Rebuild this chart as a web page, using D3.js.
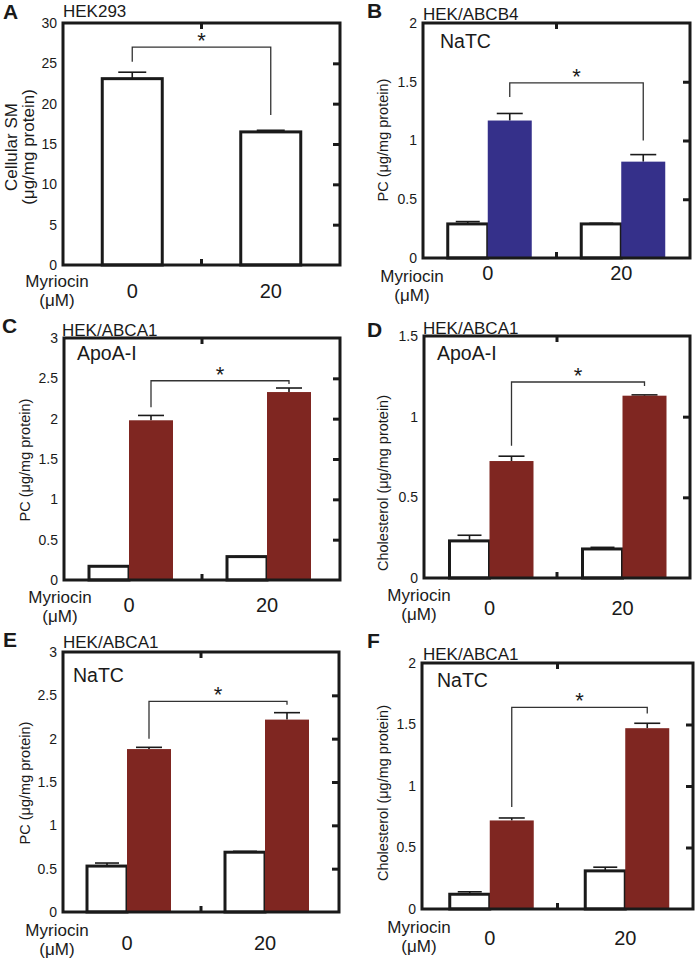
<!DOCTYPE html>
<html><head><meta charset="utf-8">
<script src="https://cdn.jsdelivr.net/npm/d3@7"></script>
<style>body{margin:0;background:#fff} text{font-family:"Liberation Sans",Arial,sans-serif;fill:#1a1a1a}</style>
</head><body><svg id="c" width="700" height="960"></svg>
<script>
// ---------------- DATA ----------------
const categories = ["0", "20"];

// Panel A: HEK293 cellular SM
const aValues = [23.1, 16.5];
const aErrors = [0.8, 0.2];
const aTicks = [0, 5, 10, 15, 20, 25, 30];
const aBracket = [25.2, 27.0, 18.6]; // left foot, top, right foot

// Panel B: HEK/ABCB4, NaTC, PC
const bControl = [0.29, 0.29];
const bControlErr = [0.02, 0.005];
const bTreated = [1.17, 0.82];
const bTreatedErr = [0.06, 0.06];
const bTicks = [0, 0.5, 1, 1.5, 2];
const bBracket = [1.37, 1.49, 1.0];

// Panel C: HEK/ABCA1, ApoA-I, PC
const cControl = [0.17, 0.29];
const cControlErr = [0, 0];
const cTreated = [1.98, 2.33];
const cTreatedErr = [0.06, 0.05];
const cTicks = [0, 0.5, 1, 1.5, 2, 2.5, 3];
const cBracket = [2.14, 2.47, 2.43];

// Panel D: HEK/ABCA1, ApoA-I, Cholesterol
const dControl = [0.23, 0.18];
const dControlErr = [0.035, 0.01];
const dTreated = [0.725, 1.13];
const dTreatedErr = [0.03, 0.005];
const dTicks = [0, 0.5, 1, 1.5];
const dBracket = [0.82, 1.215, 1.19];

// Panel E: HEK/ABCA1, NaTC, PC
const eControl = [0.53, 0.69];
const eControlErr = [0.035, 0.01];
const eTreated = [1.88, 2.22];
const eTreatedErr = [0.02, 0.08];
const eTicks = [0, 0.5, 1, 1.5, 2, 2.5, 3];
const eBracket = [2.0, 2.43, 2.39];

// Panel F: HEK/ABCA1, NaTC, Cholesterol
const fControl = [0.12, 0.31];
const fControlErr = [0.02, 0.03];
const fTreated = [0.72, 1.47];
const fTreatedErr = [0.02, 0.04];
const fTicks = [0, 0.5, 1, 1.5, 2];
const fBracket = [0.83, 1.64, 1.59];

// ---------------- LAYOUT ----------------
const BLUE = "#35308a", RED = "#7f2621", INK = "#1a1a1a";

const panels = [
  {letter:"A", title:"HEK293", ytitle:["Cellular SM","(\u03bcg/mg protein)"], ytSize:17, ytX:[11,28], ytY:147,
   x0:63, x1:340, y0:23, y1:265, ticks:aTicks, single:aValues, singleErr:aErrors, bracket:aBracket,
   letterXY:[3,19], titleXY:[63,17], inner:null, catDy:33, myrXY:[57,287], shift:0},
  {letter:"B", title:"HEK/ABCB4", ytitle:["PC (\u03bcg/mg protein)"], ytSize:14.5, ytX:[383], ytY:140,
   x0:423, x1:690, y0:23, y1:258, ticks:bTicks, control:bControl, controlErr:bControlErr, treated:bTreated, treatedErr:bTreatedErr,
   color:BLUE, bracket:bBracket, letterXY:[367,18], titleXY:[423,20], inner:["NaTC",440,48], catDy:22, myrXY:[412,282], shift:-2},
  {letter:"C", title:"HEK/ABCA1", ytitle:["PC (\u03bcg/mg protein)"], ytSize:14.5, ytX:[25], ytY:460,
   x0:64, x1:340, y0:338, y1:580, ticks:cTicks, control:cControl, controlErr:cControlErr, treated:cTreated, treatedErr:cTreatedErr,
   color:RED, bracket:cBracket, letterXY:[2,333], titleXY:[62,336], inner:["ApoA-I",77,360], catDy:32, myrXY:[60,603], shift:-4},
  {letter:"D", title:"HEK/ABCA1", ytitle:["Cholesterol (\u03bcg/mg protein)"], ytSize:14.5, ytX:[383], ytY:483,
   x0:424, x1:690, y0:336, y1:578, ticks:dTicks, control:dControl, controlErr:dControlErr, treated:dTreated, treatedErr:dTreatedErr,
   color:RED, bracket:dBracket, letterXY:[367,337], titleXY:[423,334], inner:["ApoA-I",437,360], catDy:37, myrXY:[419,601], shift:-1},
  {letter:"E", title:"HEK/ABCA1", ytitle:["PC (\u03bcg/mg protein)"], ytSize:14.5, ytX:[25], ytY:783,
   x0:63, x1:339, y0:652, y1:912, ticks:eTicks, control:eControl, controlErr:eControlErr, treated:eTreated, treatedErr:eTreatedErr,
   color:RED, bracket:eBracket, letterXY:[3,647], titleXY:[63,648], inner:["NaTC",73,682], catDy:38, myrXY:[57,936], shift:-5},
  {letter:"F", title:"HEK/ABCA1", ytitle:["Cholesterol (\u03bcg/mg protein)"], ytSize:14.5, ytX:[383], ytY:793,
   x0:422, x1:693, y0:663, y1:909, ticks:fTicks, control:fControl, controlErr:fControlErr, treated:fTreated, treatedErr:fTreatedErr,
   color:RED, bracket:fBracket, letterXY:[367,648], titleXY:[423,660], inner:["NaTC",437,687], catDy:36, myrXY:[419,933], shift:0}
];

const svg = d3.select("#c");

panels.forEach(p => {
  const g = svg.append("g");
  const yMax = d3.max(p.ticks);
  const y = d3.scaleLinear().domain([0, yMax]).range([p.y1, p.y0]);
  const x = d3.scalePoint().domain(categories).range([p.x0 + p.shift, p.x1 + p.shift]).padding(0.5);

  let leftBarCenter, rightBarCenter;
  const errBar = (cx, v, e, hw) => {
    if (e > 0.0001) {
      g.append("line").attr("x1", cx).attr("x2", cx).attr("y1", y(v)).attr("y2", y(v + e))
        .attr("stroke", INK).attr("stroke-width", 1.6);
    }
    g.append("line").attr("x1", cx - hw).attr("x2", cx + hw).attr("y1", y(v + e)).attr("y2", y(v + e))
      .attr("stroke", INK).attr("stroke-width", 1.6);
  };
  if (p.single) {
    const bw = 60;
    categories.forEach((c, i) => {
      errBar(x(c), p.single[i], p.singleErr[i], 14);
      g.append("rect").attr("x", x(c) - bw / 2).attr("width", bw)
        .attr("y", y(p.single[i])).attr("height", y(0) - y(p.single[i]))
        .attr("fill", "#fff").attr("stroke", INK).attr("stroke-width", 3);
    });
    leftBarCenter = x(categories[0]); rightBarCenter = x(categories[1]);
  } else {
    const ww = 40, cw = 44;
    categories.forEach((c, i) => {
      const cx = x(c);
      errBar(cx - ww / 2, p.control[i], p.controlErr[i], 12);
      g.append("rect").attr("x", cx - ww).attr("width", ww)
        .attr("y", y(p.control[i])).attr("height", y(0) - y(p.control[i]))
        .attr("fill", "#fff").attr("stroke", INK).attr("stroke-width", 3);
      errBar(cx + cw / 2, p.treated[i], p.treatedErr[i], 13);
      g.append("rect").attr("x", cx).attr("width", cw)
        .attr("y", y(p.treated[i])).attr("height", y(0) - y(p.treated[i]))
        .attr("fill", p.color);
    });
    leftBarCenter = x(categories[0]) + cw / 2; rightBarCenter = x(categories[1]) + cw / 2;
  }

  // significance bracket
  const [lf, top, rf] = p.bracket;
  g.append("path")
    .attr("d", `M${leftBarCenter},${y(lf)}V${y(top)}H${rightBarCenter}V${y(rf)}`)
    .attr("fill", "none").attr("stroke", "#333").attr("stroke-width", 1.3);
  g.append("text").attr("x", (leftBarCenter + rightBarCenter) / 2).attr("y", y(top) + 1)
    .attr("text-anchor", "middle").attr("font-size", 22).text("*");

  // frame
  g.append("rect").attr("x", p.x0).attr("y", p.y0).attr("width", p.x1 - p.x0).attr("height", p.y1 - p.y0)
    .attr("fill", "none").attr("stroke", INK).attr("stroke-width", 3);

  // left tick labels
  const axL = g.append("g").attr("transform", `translate(${p.x0 - 1},0)`)
    .call(d3.axisLeft(y).tickValues(p.ticks).tickSize(0).tickPadding(5).tickFormat(d => String(d)));
  axL.select(".domain").remove();
  axL.selectAll("text").attr("font-size", 14).attr("font-family", '"Liberation Sans",Arial,sans-serif').attr("fill", INK);

  // right inward ticks
  const axR = g.append("g").attr("transform", `translate(${p.x1},0)`)
    .call(d3.axisLeft(y).tickValues(p.ticks.filter(t => t > 0 && t < yMax)).tickSize(7).tickFormat(""));
  axR.select(".domain").remove();
  axR.selectAll("line").attr("stroke", INK).attr("stroke-width", 3);

  // middle ticks top/bottom
  const xm = (p.x0 + p.x1) / 2;
  g.append("line").attr("x1", xm).attr("x2", xm).attr("y1", p.y0).attr("y2", p.y0 + 6).attr("stroke", INK).attr("stroke-width", 3);
  g.append("line").attr("x1", xm).attr("x2", xm).attr("y1", p.y1).attr("y2", p.y1 - 6).attr("stroke", INK).attr("stroke-width", 3);

  // category labels
  categories.forEach(c => {
    g.append("text").attr("x", x(c)).attr("y", p.y1 + p.catDy).attr("text-anchor", "middle")
      .attr("font-size", 20).text(c);
  });
  g.append("text").attr("x", p.myrXY[0]).attr("y", p.myrXY[1]).attr("text-anchor", "middle")
    .attr("font-size", 17).text("Myriocin");
  g.append("text").attr("x", p.myrXY[0]).attr("y", p.myrXY[1] + 19).attr("text-anchor", "middle")
    .attr("font-size", 17).text("(\u03bcM)");

  // y title
  p.ytitle.forEach((t, i) => {
    g.append("text").attr("transform", `translate(${p.ytX[i]},${p.ytY}) rotate(-90)`)
      .attr("text-anchor", "middle").attr("dy", "0.35em").attr("font-size", p.ytSize).text(t);
  });

  // panel letter and title
  g.append("text").attr("x", p.letterXY[0]).attr("y", p.letterXY[1]).attr("font-size", 21)
    .attr("font-weight", "bold").text(p.letter);
  g.append("text").attr("x", p.titleXY[0]).attr("y", p.titleXY[1]).attr("font-size", 17).text(p.title);
  if (p.inner) {
    g.append("text").attr("x", p.inner[1]).attr("y", p.inner[2]).attr("font-size", 19.5).text(p.inner[0]);
  }
});
</script></body></html>
